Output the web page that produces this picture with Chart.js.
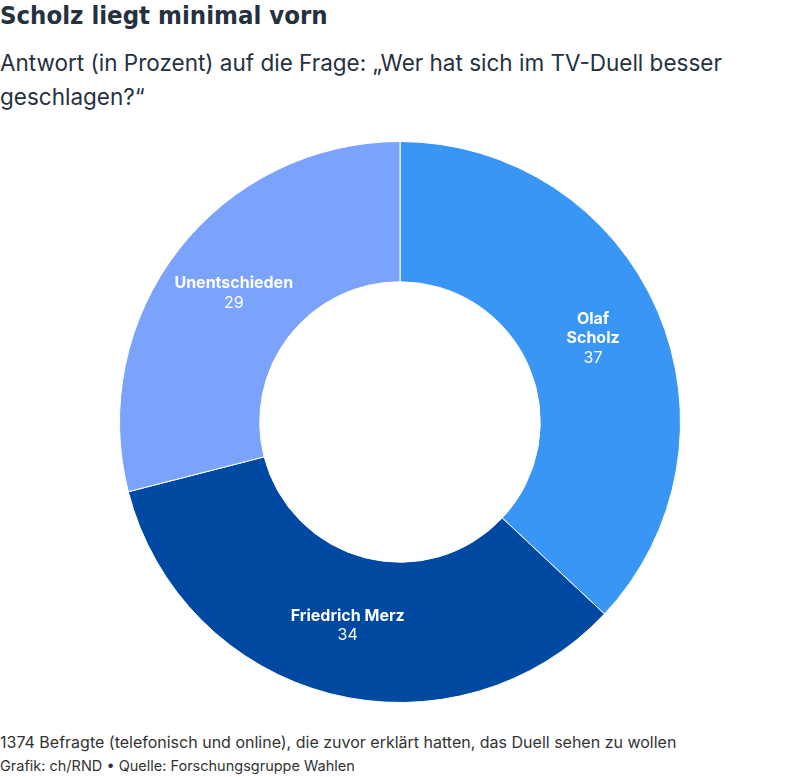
<!DOCTYPE html>
<html>
<head>
<meta charset="utf-8">
<script src="https://cdn.jsdelivr.net/npm/chart.js@4"></script>
<style>
  body { margin: 0; width: 800px; height: 777px; background: #fff; position: relative; overflow: hidden; font-family: Inter, sans-serif; color: #25313f; }
  .title { position: absolute; left: 0; top: 0px; font-family: "DejaVu Sans Condensed", sans-serif; font-weight: bold; font-size: 25.5px; color: #25313f; }
  .sub { position: absolute; left: 0; top: 46px; width: 790px; font-size: 22.5px; line-height: 34px; color: #25313f; }
  .chart { position: absolute; left: 0; top: 141px; width: 800px; height: 562px; }
  .note { position: absolute; left: 0; top: 732px; font-size: 16px; color: #333; }
  .src { position: absolute; left: 0; top: 757px; font-size: 14.5px; color: #333; }
</style>
</head>
<body>
<div class="title">Scholz liegt minimal vorn</div>
<div class="sub">Antwort (in Prozent) auf die Frage: „Wer hat sich im TV-Duell besser geschlagen?“</div>
<div class="chart"><canvas id="myChart"></canvas></div>
<div class="note">1374 Befragte (telefonisch und online), die zuvor erklärt hatten, das Duell sehen zu wollen</div>
<div class="src">Grafik: ch/RND • Quelle: Forschungsgruppe Wahlen</div>
<script>
// Daten
var categories = ['Olaf Scholz', 'Friedrich Merz', 'Unentschieden'];
var labelLines = [['Olaf', 'Scholz'], ['Friedrich Merz'], ['Unentschieden']];
var values = [37, 34, 29];
var colors = ['#3a96f4', '#0049a2', '#7ba3fc'];

// Beschriftung in der Mitte jedes Segments
var sliceLabels = {
  id: 'sliceLabels',
  afterDatasetsDraw: function(chart) {
    var c = chart.ctx;
    var meta = chart.getDatasetMeta(0);
    meta.data.forEach(function(arc, i) {
      var p = arc.tooltipPosition();
      var lines = labelLines[i];
      var lh = 19.5;
      var total = lines.length + 1;
      var y0 = p.y - (total - 1) * lh / 2;
      c.save();
      c.fillStyle = '#fff';
      c.textAlign = 'center';
      c.textBaseline = 'middle';
      c.font = 'bold 16px Inter';
      lines.forEach(function(t, j) {
        c.fillText(t, p.x, y0 + j * lh);
      });
      c.font = '16px Inter';
      c.fillText(values[i], p.x, y0 + lines.length * lh);
      c.restore();
    });
  }
};

var ctx = document.getElementById('myChart').getContext('2d');
var myChart = new Chart(ctx, {
  type: 'doughnut',
  data: {
    labels: categories,
    datasets: [{
      data: values,
      backgroundColor: colors,
      borderColor: '#fff',
      borderWidth: 1
    }]
  },
  options: {
    responsive: true,
    maintainAspectRatio: false,
    animation: false,
    cutout: '50%',
    layout: { padding: 0 },
    plugins: {
      legend: { display: false },
      tooltip: { enabled: false }
    }
  },
  plugins: [sliceLabels]
});
</script>
</body>
</html>
